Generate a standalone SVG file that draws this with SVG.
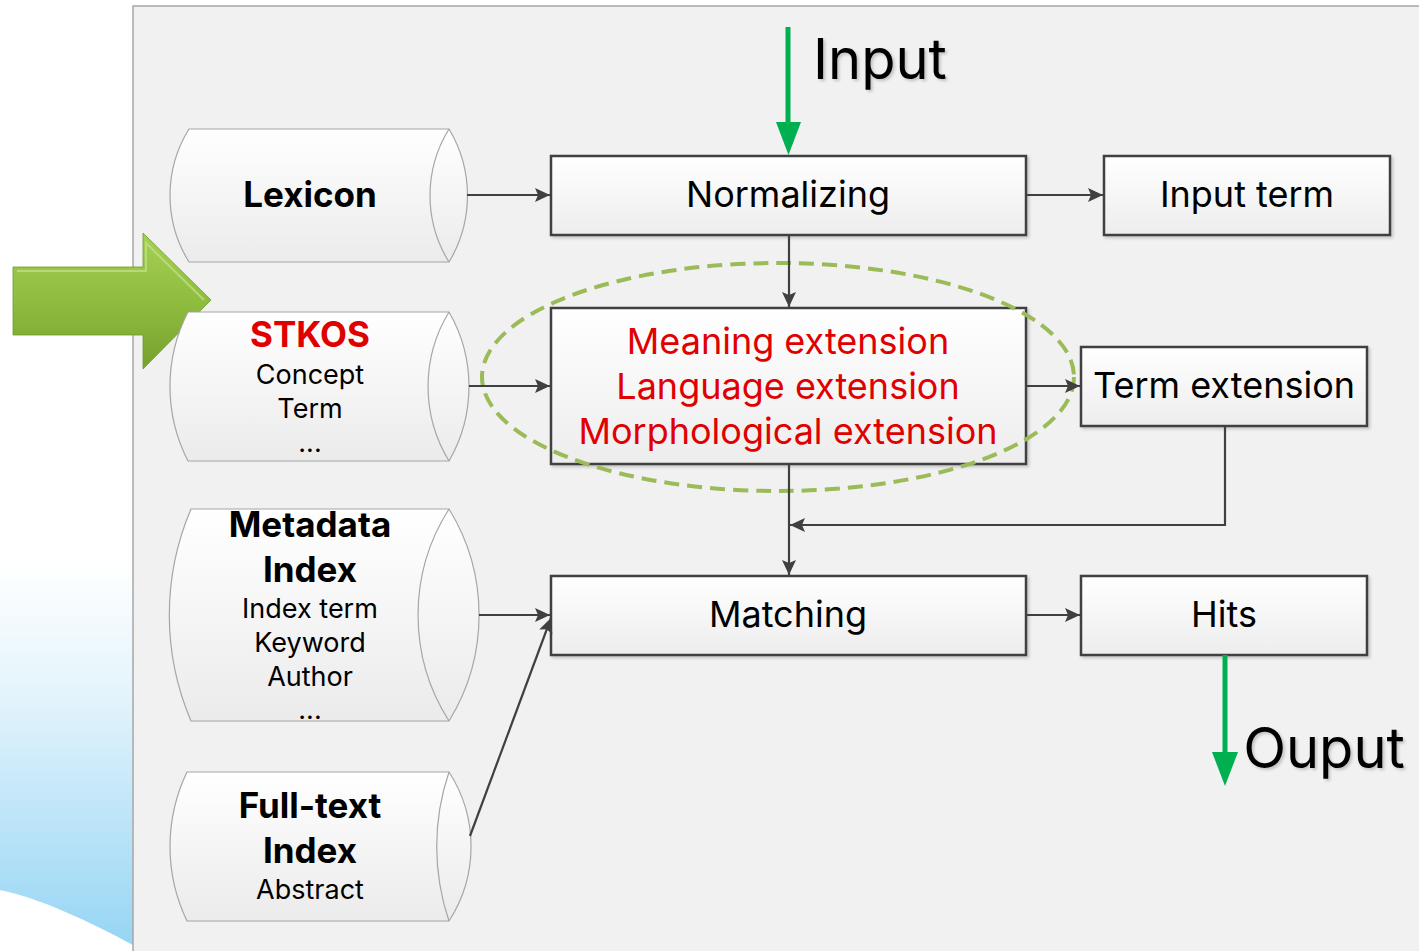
<svg xmlns="http://www.w3.org/2000/svg" width="1419" height="951" viewBox="0 0 1419 951">
  <defs>
    <style>
      .box{fill:url(#boxGrad);stroke:#404040;stroke-width:2.5;filter:url(#shadow)}
      .cyl{fill:url(#cylGrad);stroke:#a6a6a6;stroke-width:1.2}
      .inner{fill:none;stroke:#a6a6a6;stroke-width:1.2}
      .t{font-family:Inter,"Open Sans","DejaVu Sans",sans-serif;text-anchor:middle;fill:#000}
      .lbl{font-size:36px}
      .b{font-weight:bold;font-size:35px}
      .s{font-size:27px}
      .red{fill:#e00000}
      .conn{fill:none;stroke:#404040;stroke-width:2.2}
      .green{fill:none;stroke:#00b050;stroke-width:5}
      .big{font-size:56px;filter:url(#tshadow)}
    </style>
    <linearGradient id="boxGrad" x1="0" y1="0" x2="0" y2="1">
      <stop offset="0" stop-color="#ffffff"/>
      <stop offset="1" stop-color="#ededed"/>
    </linearGradient>
    <linearGradient id="cylGrad" x1="0" y1="0" x2="0" y2="1">
      <stop offset="0" stop-color="#ffffff"/>
      <stop offset="1" stop-color="#ebebeb"/>
    </linearGradient>
    <linearGradient id="blueGrad" gradientUnits="userSpaceOnUse" x1="0" y1="560" x2="0" y2="945">
      <stop offset="0" stop-color="#ffffff"/>
      <stop offset="0.35" stop-color="#e4f4fc"/>
      <stop offset="1" stop-color="#96d5f4"/>
    </linearGradient>
    <linearGradient id="arrowGrad" x1="0" y1="0" x2="0" y2="1">
      <stop offset="0" stop-color="#a6d055"/>
      <stop offset="0.5" stop-color="#8fbd3f"/>
      <stop offset="1" stop-color="#76a12e"/>
    </linearGradient>
    <filter id="shadow" x="-5%" y="-5%" width="110%" height="120%">
      <feDropShadow dx="2" dy="2" stdDeviation="1.5" flood-color="#000" flood-opacity="0.18"/>
    </filter>
    <filter id="tshadow" x="-5%" y="-10%" width="115%" height="130%">
      <feDropShadow dx="2" dy="2" stdDeviation="1.5" flood-color="#000" flood-opacity="0.2"/>
    </filter>
    <marker id="ah" markerUnits="userSpaceOnUse" markerWidth="16" markerHeight="14" refX="15" refY="7" orient="auto">
      <path d="M0,0 L15,7 L0,14 L3,7 Z" fill="#404040"/>
    </marker>
  </defs>

  <!-- background -->
  <rect x="0" y="0" width="1419" height="951" fill="#ffffff"/>
  <rect x="0" y="500" width="133" height="451" fill="url(#blueGrad)"/>
  <path d="M0,890 C40,898 90,922 133,945 L133,951 L0,951 Z" fill="#ffffff"/>
  <rect x="133" y="6" width="1290" height="950" fill="#f1f1f1" stroke="#a6a6a6" stroke-width="1.5"/>

  <!-- green highlight arrow -->
  <g id="highlight-arrow">
    <path d="M13,267 L143,267 L143,233 L211,300 L143,369 L143,335 L13,335 Z" fill="url(#arrowGrad)" stroke="#6f9a2a" stroke-width="0.8"/>
    <path d="M17,271 L146,271 L146,243 L204,300" fill="none" stroke="#c4e38a" stroke-width="2" opacity="0.7"/>
  </g>

  <!-- cylinders -->
  <g id="lexicon">
    <path class="cyl" d="M189,129 L449,129 A129,129 0 0 1 449,262 L189,262 A126,126 0 0 1 189,129 Z"/>
    <path class="inner" d="M449,129 A126,126 0 0 0 449,262"/>
    <text class="t b" x="310" y="207">Lexicon</text>
  </g>
  <g id="stkos">
    <path class="cyl" d="M188,312 L449,312 A149,149 0 0 1 449,461 L188,461 A163,163 0 0 1 188,312 Z"/>
    <path class="inner" d="M449,312 A143,143 0 0 0 449,461"/>
    <text class="t b red" x="310" y="347">STKOS</text>
    <text class="t s" x="310" y="384">Concept</text>
    <text class="t s" x="310" y="418">Term</text>
    <text class="t s" x="310" y="452">...</text>
  </g>
  <g id="metadata-index">
    <path class="cyl" d="M191,509 L449,509 A202,202 0 0 1 449,721 L191,721 A270,270 0 0 1 191,509 Z"/>
    <path class="inner" d="M449,509 A197,197 0 0 0 449,721"/>
    <text class="t b" x="310" y="537">Metadata</text>
    <text class="t b" x="310" y="582">Index</text>
    <text class="t s" x="310" y="618">Index term</text>
    <text class="t s" x="310" y="652">Keyword</text>
    <text class="t s" x="310" y="686">Author</text>
    <text class="t s" x="310" y="719">...</text>
  </g>
  <g id="fulltext-index">
    <path class="cyl" d="M187,772 L449,772 A137,137 0 0 1 449,921 L187,921 A172,172 0 0 1 187,772 Z"/>
    <path class="inner" d="M449,772 A232,232 0 0 0 449,921"/>
    <text class="t b" x="310" y="818">Full-text</text>
    <text class="t b" x="310" y="863">Index</text>
    <text class="t s" x="310" y="899">Abstract</text>
  </g>

  <!-- process boxes -->
  <g id="normalizing">
    <rect class="box" x="551" y="156" width="475" height="79"/>
    <text class="t lbl" x="788" y="207">Normalizing</text>
  </g>
  <g id="input-term">
    <rect class="box" x="1104" y="156" width="286" height="79"/>
    <text class="t lbl" x="1247" y="207">Input term</text>
  </g>
  <g id="extension">
    <rect class="box" x="551" y="308" width="475" height="156"/>
    <text class="t lbl red" x="788" y="354">Meaning extension</text>
    <text class="t lbl red" x="788" y="399">Language extension</text>
    <text class="t lbl red" x="788" y="444">Morphological extension</text>
  </g>
  <g id="term-extension">
    <rect class="box" x="1081" y="347" width="286" height="79"/>
    <text class="t lbl" x="1224" y="398">Term extension</text>
  </g>
  <g id="matching">
    <rect class="box" x="551" y="576" width="475" height="79"/>
    <text class="t lbl" x="788" y="627">Matching</text>
  </g>
  <g id="hits">
    <rect class="box" x="1081" y="576" width="286" height="79"/>
    <text class="t lbl" x="1224" y="627">Hits</text>
  </g>

  <!-- highlight ellipse -->
  <g id="highlight-ellipse">
    <ellipse cx="778" cy="377" rx="296" ry="114" fill="none" stroke="#9bbb59" stroke-width="4" stroke-dasharray="15 8"/>
  </g>

  <!-- connectors -->
  <g id="connectors">
    <line class="conn" x1="467" y1="195" x2="550" y2="195" marker-end="url(#ah)"/>
    <line class="conn" x1="1026" y1="195" x2="1103" y2="195" marker-end="url(#ah)"/>
    <line class="conn" x1="789" y1="235" x2="789" y2="307" marker-end="url(#ah)"/>
    <line class="conn" x1="469" y1="386" x2="550" y2="386" marker-end="url(#ah)"/>
    <line class="conn" x1="1026" y1="386" x2="1080" y2="386" marker-end="url(#ah)"/>
    <polyline class="conn" points="1225,426 1225,525 790,525" marker-end="url(#ah)"/>
    <line class="conn" x1="789" y1="464" x2="789" y2="575" marker-end="url(#ah)"/>
    <line class="conn" x1="479" y1="615" x2="550" y2="615" marker-end="url(#ah)"/>
    <line class="conn" x1="470" y1="836" x2="551" y2="618" marker-end="url(#ah)"/>
    <line class="conn" x1="1026" y1="615" x2="1080" y2="615" marker-end="url(#ah)"/>
    <line class="green" x1="788" y1="27" x2="788" y2="124"/>
    <path d="M776,122 L801,122 L788.5,155 Z" fill="#00b050"/>
    <line class="green" x1="1225" y1="655" x2="1225" y2="755"/>
    <path d="M1212,752 L1238,752 L1225,786 Z" fill="#00b050"/>
  </g>

  <text class="t big" x="880" y="79">Input</text>
  <text class="t big" x="1324" y="768">Ouput</text>
</svg>
